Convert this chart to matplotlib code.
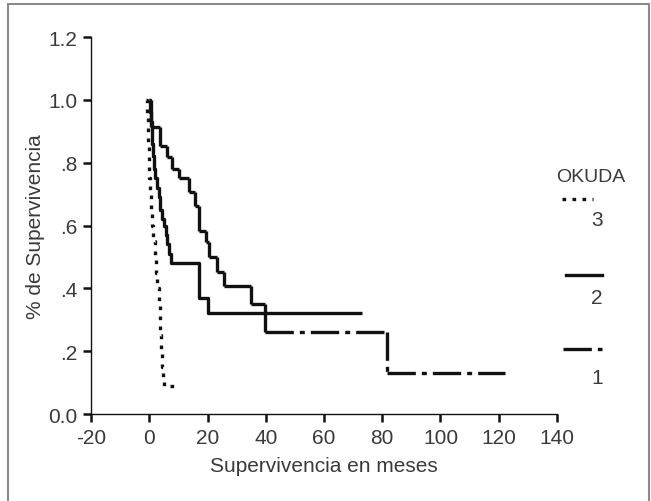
import matplotlib
matplotlib.use("Agg")
import matplotlib.pyplot as plt
from matplotlib.patches import Rectangle
from matplotlib.lines import Line2D
from matplotlib.collections import LineCollection

plt.rcParams['font.family'] = ['Liberation Sans', 'DejaVu Sans']

# curvas de Kaplan-Meier por estadio OKUDA (tiempo en meses, supervivencia)
t3 = [-1, -0.8, -0.6, -0.4, -0.2, 0, 0.2, 0.5, 0.9, 1.3, 1.8, 2.3, 2.8, 3.3, 3.6, 3.8, 4.0, 4.3, 4.6, 5.0, 9]
s3 = [1.0, 0.95, 0.90, 0.85, 0.80, 0.75, 0.70, 0.65, 0.60, 0.55, 0.50, 0.45, 0.40, 0.35, 0.30, 0.25, 0.20, 0.15, 0.11, 0.09, 0.09]

t2 = [0, 0.3, 0.6, 0.9, 1.2, 1.6, 2.0, 2.6, 3.2, 3.8, 4.4, 5.0, 5.6, 6.2, 6.8, 7.6, 17.2, 20, 73]
s2 = [1.0, 0.96, 0.93, 0.86, 0.82, 0.78, 0.75, 0.72, 0.69, 0.65, 0.62, 0.60, 0.57, 0.54, 0.51, 0.48, 0.37, 0.32, 0.32]

t1 = [0, 0.5, 3.7, 6.2, 7.9, 10.2, 13.6, 15.6, 17.1, 19.4, 20.5, 23.4, 25.7, 34.9, 39.7, 81.5, 122]
s1 = [1.0, 0.913, 0.852, 0.817, 0.780, 0.751, 0.706, 0.663, 0.584, 0.547, 0.499, 0.453, 0.407, 0.350, 0.26, 0.13, 0.13]

xticks = [-20, 0, 20, 40, 60, 80, 100, 120, 140]
yticks = [0.0, 0.2, 0.4, 0.6, 0.8, 1.0, 1.2]
ylabels = ['0.0', '.2', '.4', '.6', '.8', '1.0', '1.2']

grupos = ['3', '2', '1']

txt = '#3a3a3a'
negro = '#111111'
lw = 2.4
fs = 15
punteado = (0, (1.1, 1.9))
rayapunto = (0, (8.5, 1.8, 1.5, 1.8))
estilos = [punteado, '-', rayapunto]


def tramos(t, s):
    # cada tramo horizontal y vertical de la escalera por separado
    segs = []
    for i in range(len(t) - 1):
        segs.append([(t[i], s[i]), (t[i + 1], s[i])])
        if s[i + 1] != s[i]:
            segs.append([(t[i + 1], s[i]), (t[i + 1], s[i + 1])])
    return segs


fig = plt.figure(figsize=(6.51, 5.02), dpi=100)
ax = fig.add_axes([0.1398, 0.1733, 0.7158, 0.751])

ax.step(t3, s3, where='post', color=negro, lw=lw, linestyle=punteado, dash_capstyle='butt')
ax.step(t2, s2, where='post', color=negro, lw=lw, linestyle='-', solid_capstyle='butt')
ax.add_collection(LineCollection(tramos(t1, s1), colors=negro, linewidths=lw,
                                 linestyles=[rayapunto], capstyle='butt'))

ax.set_xlim(-20, 140)
ax.set_ylim(0, 1.2)
ax.set_xticks(xticks)
ax.set_xticklabels([str(v) for v in xticks])
ax.set_yticks(yticks)
ax.set_yticklabels(ylabels)
for sp in ['top', 'right']:
    ax.spines[sp].set_visible(False)
for sp in ['left', 'bottom']:
    ax.spines[sp].set_linewidth(1.0)
    ax.spines[sp].set_color(negro)
ax.tick_params(axis='both', direction='out', length=6, width=1.8, colors=negro,
               labelcolor=txt, labelsize=fs, pad=4)

ax.set_xlabel('Supervivencia en meses', fontsize=fs, color=txt, va='center')
ax.xaxis.set_label_coords(0.5, -0.137)
ax.set_ylabel('% de Supervivencia', fontsize=fs, color=txt, va='center')
ax.yaxis.set_label_coords(-0.12, 0.5)

# leyenda dibujada a mano a la derecha
ax.text(1.073, 0.631, 'OKUDA', transform=ax.transAxes, fontsize=fs - 1, color=txt,
        ha='center', va='center')
muestras = [(1.011, 1.077, 0.570, 0.515), (1.019, 1.097, 0.369, 0.308), (1.013, 1.097, 0.172, 0.098)]
for (x0, x1, yl, yt), ls, g in zip(muestras, estilos, grupos):
    ax.add_line(Line2D([x0, x1], [yl, yl], transform=ax.transAxes, color=negro,
                       lw=lw, linestyle=ls, dash_capstyle='butt', clip_on=False))
    ax.text(1.086, yt, g, transform=ax.transAxes, fontsize=fs, color=txt,
            ha='center', va='center')

# marco gris alrededor de la figura
fig.add_artist(Rectangle((0.0123, -0.02), 0.9847, 1.01, transform=fig.transFigure,
                         fill=False, edgecolor='#8a8a8a', lw=1.5))

fig.savefig('out.png', dpi=100)
